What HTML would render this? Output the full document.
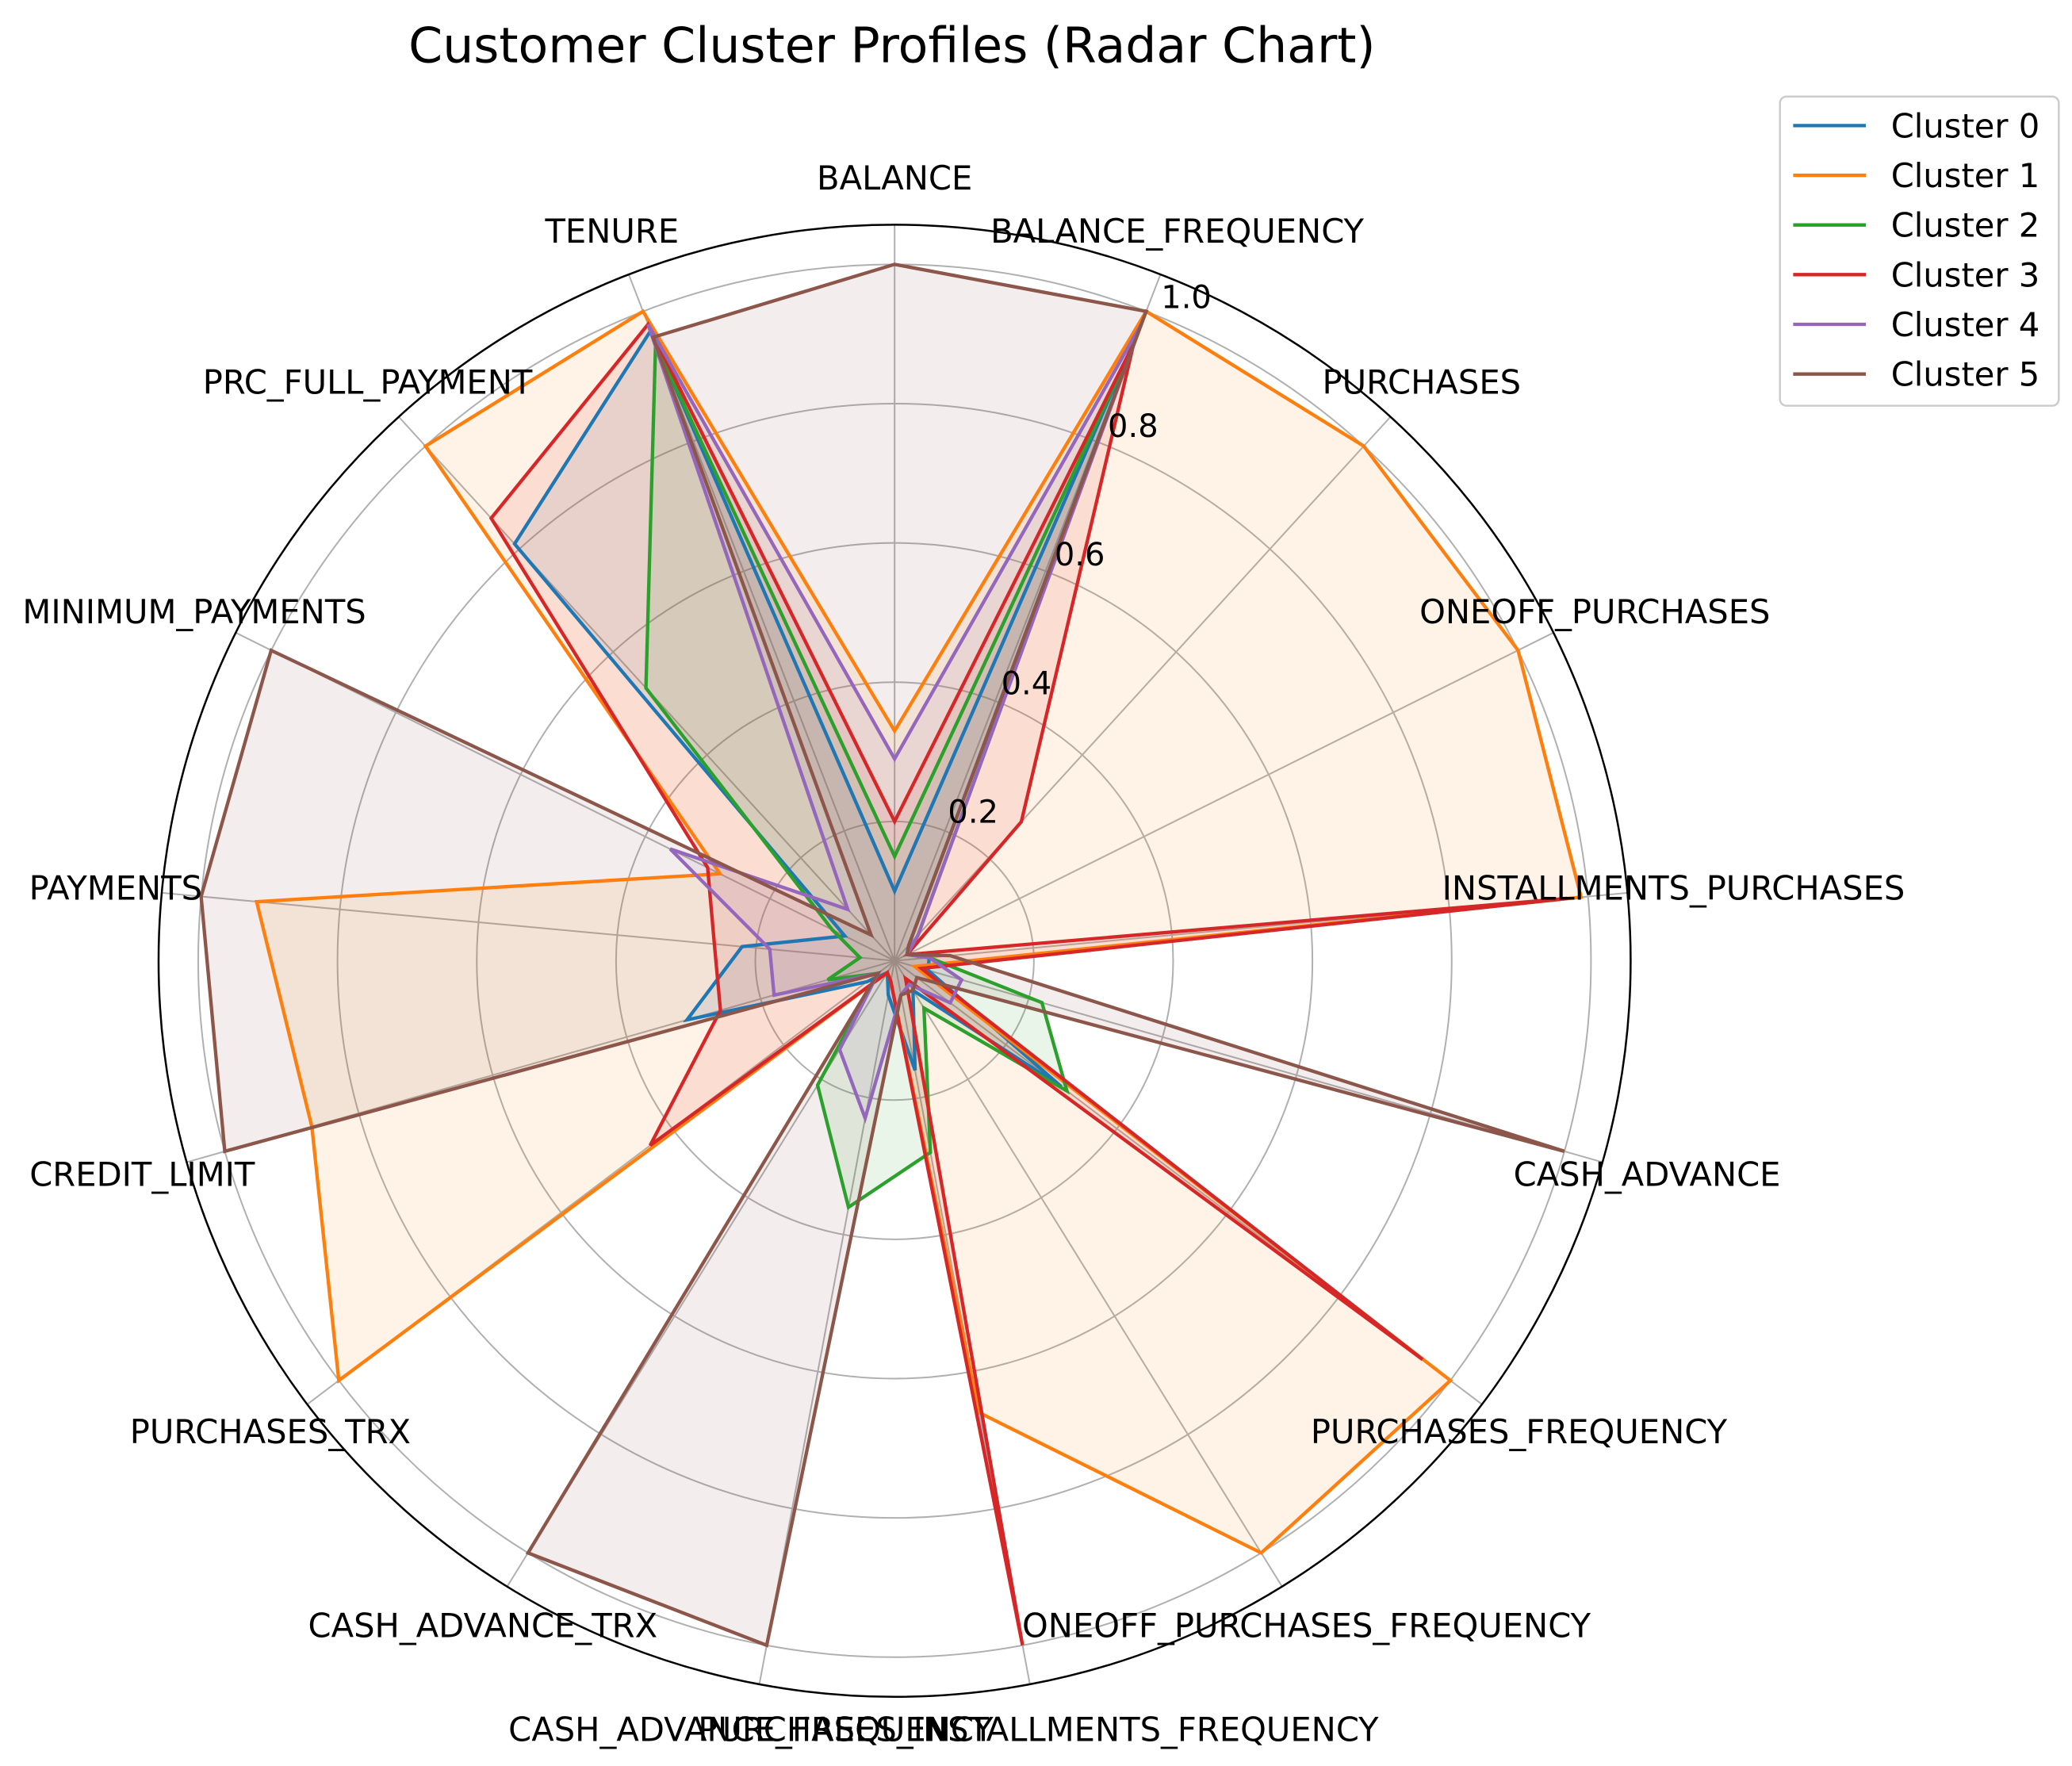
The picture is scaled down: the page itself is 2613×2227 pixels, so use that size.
<!DOCTYPE html>
<html><head><meta charset="utf-8"><style>
html,body{margin:0;padding:0;background:#fff;}
svg{display:block;font-family:"DejaVu Sans","Liberation Sans",sans-serif;}
</style></head><body>
<svg id="chart" width="2613" height="2227" viewBox="0 0 1568 1336.3" xmlns="http://www.w3.org/2000/svg">
<rect width="1568" height="1336.3" fill="#fff"/>
<text x="675" y="47" font-size="37" text-anchor="middle" fill="#000">Customer Cluster Profiles (Radar Chart)</text>
<g id="grid"></g><g id="series"></g><g id="labels"></g><g id="legend"></g>
</svg>
<script>
const categories=["BALANCE","BALANCE_FREQUENCY","PURCHASES","ONEOFF_PURCHASES","INSTALLMENTS_PURCHASES","CASH_ADVANCE","PURCHASES_FREQUENCY","ONEOFF_PURCHASES_FREQUENCY","PURCHASES_INSTALLMENTS_FREQUENCY","CASH_ADVANCE_FREQUENCY","CASH_ADVANCE_TRX","PURCHASES_TRX","CREDIT_LIMIT","PAYMENTS","MINIMUM_PAYMENTS","PRC_FULL_PAYMENT","TENURE"];
const seriesNames=["Cluster 0","Cluster 1","Cluster 2","Cluster 3","Cluster 4","Cluster 5"];
const cluster0=[0.10,0.97,0.03,0.02,0.05,0.05,0.30,0.05,0.16,0.05,0.02,0.05,0.31,0.22,0.08,0.81,0.97];
const cluster1=[0.33,1.00,1.00,1.00,0.99,0.03,1.00,1.00,0.66,0.03,0.02,1.00,0.87,0.92,0.28,1.00,1.00];
const cluster2=[0.15,0.95,0.05,0.02,0.05,0.22,0.31,0.08,0.28,0.36,0.21,0.03,0.10,0.05,0.10,0.53,0.95];
const cluster3=[0.20,0.95,0.27,0.02,0.97,0.04,0.95,0.03,1.00,0.03,0.02,0.44,0.26,0.26,0.30,0.86,0.98];
const cluster4=[0.29,0.98,0.05,0.02,0.05,0.10,0.10,0.04,0.05,0.23,0.15,0.03,0.18,0.18,0.36,0.10,0.98];
const cluster5=[1.00,1.00,0.03,0.02,0.08,1.00,0.04,0.05,0.05,1.00,1.00,0.03,1.00,1.00,1.00,0.05,0.96];
const seriesData=[cluster0,cluster1,cluster2,cluster3,cluster4,cluster5];
const colors=["#1f77b4","#ff7f0e","#2ca02c","#d62728","#9467bd","#8c564b"];
const radialTicks=["0.2","0.4","0.6","0.8","1.0"];
const NS="http://www.w3.org/2000/svg";
const cx=677,cy=727,R1=527,Rmax=557;
function ang(i){return i*2*Math.PI/categories.length;}
function pt(i,v){const a=ang(i),r=v*R1;return [cx+r*Math.sin(a),cy-r*Math.cos(a)];}
function mk(tag,attrs,parent){const e=document.createElementNS(NS,tag);for(const k in attrs)e.setAttribute(k,attrs[k]);parent.appendChild(e);return e;}
const grid=document.getElementById('grid');
radialTicks.forEach(t=>{
  const c=mk('circle',{cx:cx,cy:cy,r:parseFloat(t)*R1,fill:'none',stroke:'#b0b0b0','stroke-width':1.2},grid);
  
  
});
categories.forEach((c,i)=>{
  const a=ang(i);
  const l=mk('line',{x1:cx,y1:cy,x2:cx+Rmax*Math.sin(a),y2:cy-Rmax*Math.cos(a),stroke:'#b0b0b0','stroke-width':1.2},grid);
  
  
});
const outer=mk('circle',{cx:cx,cy:cy,r:Rmax,fill:'none',stroke:'#000','stroke-width':1.5},grid);


const ser=document.getElementById('series');
seriesData.forEach((d,s)=>{
  const pts=d.map((v,i)=>pt(i,v).map(n=>n.toFixed(1)).join(',')).join(' ');
  const f=mk('polygon',{points:pts,fill:colors[s],'fill-opacity':0.1,stroke:'none'},ser);
  
  
});
seriesData.forEach((d,s)=>{
  const pts=d.map((v,i)=>pt(i,v).map(n=>n.toFixed(1)).join(',')).join(' ');
  const p=mk('polygon',{points:pts,fill:'none',stroke:colors[s],'stroke-width':2.6,'stroke-linejoin':'miter'},ser);
  
  
});
const lab=document.getElementById('labels');
radialTicks.forEach(t=>{
  const v=parseFloat(t),a=22.5*Math.PI/180,r=v*R1;
  const e=mk('text',{x:cx+r*Math.sin(a),y:cy-r*Math.cos(a)-7,'font-size':24,fill:'#000'},lab);
  e.textContent=t;
  
  
});
categories.forEach((c,i)=>{
  const a=ang(i),r=592;
  const e=mk('text',{x:cx+r*Math.sin(a),y:cy-r*Math.cos(a)+8.5,'font-size':25,'text-anchor':'middle',fill:'#000'},lab);
  e.textContent=c;
  
  
});
const leg=document.getElementById('legend');
const box=mk('rect',{x:1347,y:73,width:211,height:234,rx:5,fill:'#fff',stroke:'#ccc','stroke-width':1.5},leg);


seriesNames.forEach((n,s)=>{
  const y=95+s*37.6;
  const g=mk('g',{},leg);
  
  
  mk('line',{x1:1357,y1:y,x2:1412,y2:y,stroke:colors[s],'stroke-width':2.6},g);
  const t=mk('text',{x:1431,y:y+9,'font-size':25,fill:'#000'},g);
  t.textContent=n;
});
</script>
</body></html>
